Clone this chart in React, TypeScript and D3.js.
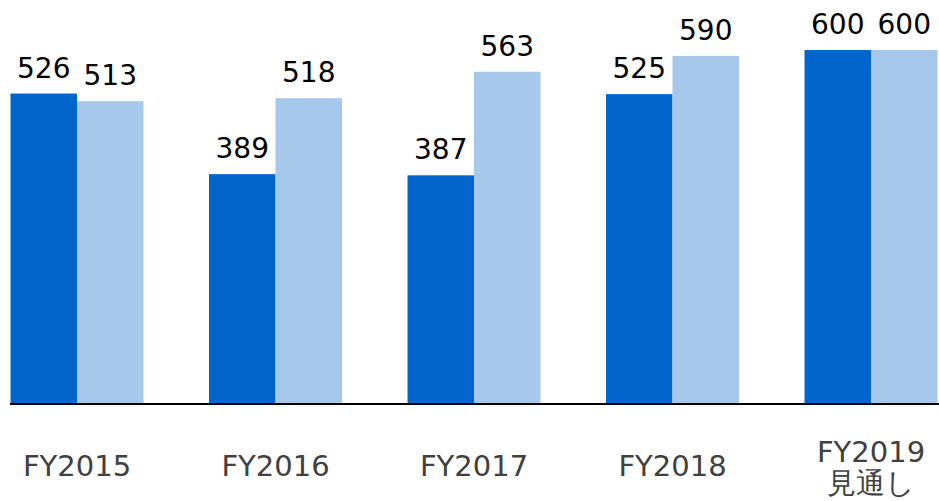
import React from "react";
import * as d3 from "d3";

const categories: string[][] = [["FY2015"], ["FY2016"], ["FY2017"], ["FY2018"], ["FY2019", "見通し"]];
const seriesA: number[] = [526, 389, 387, 525, 600];
const seriesB: number[] = [513, 518, 563, 590, 600];
const seriesKeys = ["a", "b"];
const colors = ["#0066CC", "#A6C8EA"];

const W = 939;
const H = 501;

export default function App() {
  const x0 = d3
    .scaleBand<number>()
    .domain(categories.map((_, i) => i))
    .range([10.5, 937.5])
    .paddingInner(0.33)
    .paddingOuter(0);
  const x1 = d3.scaleBand<string>().domain(seriesKeys).range([0, x0.bandwidth()]).padding(0);
  const y = d3.scaleLinear().domain([0, 600]).range([403, 50]);
  const series = [seriesA, seriesB];
  const font = "'DejaVu Sans', Verdana, sans-serif";

  return (
    <svg width={W} height={H} style={{ position: "absolute", left: 0, top: 0, background: "#fff" }}>
      {categories.map((cat, i) => (
        <g key={i} transform={`translate(${x0(i)},0)`}>
          {series.map((s, k) => (
            <g key={k}>
              <rect
                x={x1(seriesKeys[k])}
                y={y(s[i])}
                width={x1.bandwidth()}
                height={y(0) - y(s[i])}
                fill={colors[k]}
              />
              <text
                x={(x1(seriesKeys[k]) as number) + x1.bandwidth() / 2}
                y={y(s[i]) - 16}
                textAnchor="middle"
                fontFamily={font}
                fontSize={28}
                fill="#000"
              >
                {s[i]}
              </text>
            </g>
          ))}
          {cat.map((line, j) => (
            <text
              key={j}
              x={x0.bandwidth() / 2}
              y={cat.length === 1 ? 476 : 462 + j * 31}
              textAnchor="middle"
              fontFamily={font}
              fontSize={29}
              fill="#404040"
            >
              {line}
            </text>
          ))}
        </g>
      ))}
      <line x1={10} x2={939} y1={404} y2={404} stroke="#000" strokeWidth={2} />
    </svg>
  );
}
